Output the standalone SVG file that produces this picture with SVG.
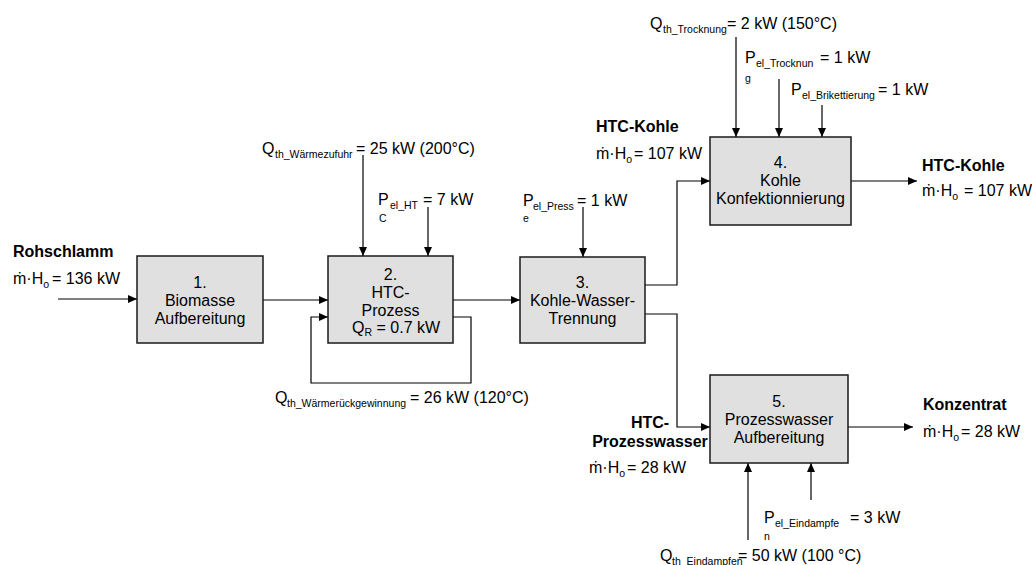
<svg xmlns="http://www.w3.org/2000/svg" width="1032" height="565" viewBox="0 0 1032 565">
<style>
text{font-family:"Liberation Sans",Arial,sans-serif;font-size:16px;fill:#000}
.b{font-weight:bold}
.s{font-size:10.5px}
.c{text-anchor:middle}
.box{fill:#e0e0e0;stroke:#1a1a1a;stroke-width:1.5}
.ln{fill:none;stroke:#000;stroke-width:1.2}
.ar{marker-end:url(#ah)}
</style>
<defs>
<marker id="ah" markerUnits="userSpaceOnUse" markerWidth="10" markerHeight="9" refX="9" refY="4" orient="auto">
<path d="M0,0 L9,4 L0,8 z" fill="#000"/>
</marker>
</defs>
<rect width="1032" height="565" fill="#fff"/>

<g id="connectors">
<path class="ln ar" d="M58,299 H137"/>
<path class="ln ar" d="M263,300 H328"/>
<path class="ln ar" d="M453,300 H520"/>
<path class="ln ar" d="M453,317 H471 V383 H311 V317 H328"/>
<path class="ln ar" d="M645,285 H677 V181 H710"/>
<path class="ln ar" d="M645,314 H677 V427 H710"/>
<path class="ln ar" d="M851,181 H917"/>
<path class="ln ar" d="M848,427 H913"/>
<path class="ln ar" d="M363,155 V256"/>
<path class="ln ar" d="M428,207 V256"/>
<path class="ln ar" d="M583,207 V257"/>
<path class="ln ar" d="M736,37 V137"/>
<path class="ln ar" d="M779,79 V137"/>
<path class="ln ar" d="M822,105 V137"/>
<path class="ln ar" d="M748,540 V463"/>
<path class="ln ar" d="M811,500 V463"/>
</g>

<g id="n1">
<rect class="box" x="137" y="256" width="126" height="87"/>
<text class="c" x="200" y="288">1.</text>
<text class="c" x="200" y="306">Biomasse</text>
<text class="c" x="200" y="324">Aufbereitung</text>
</g>
<g id="n2">
<rect class="box" x="328" y="256" width="125" height="87"/>
<text class="c" x="390.5" y="280">2.</text>
<text class="c" x="390.5" y="298">HTC-</text>
<text class="c" x="390.5" y="316">Prozess</text>
<text x="352" y="333">Q<tspan class="s" dy="3">R</tspan><tspan dy="-3"> = 0.7 kW</tspan></text>
</g>
<g id="n3">
<rect class="box" x="520" y="257" width="125" height="86"/>
<text class="c" x="582.5" y="288">3.</text>
<text class="c" x="582.5" y="306">Kohle-Wasser-</text>
<text class="c" x="582.5" y="324">Trennung</text>
</g>
<g id="n4">
<rect class="box" x="710" y="137" width="141" height="88"/>
<text class="c" x="780.5" y="168">4.</text>
<text class="c" x="780.5" y="186">Kohle</text>
<text class="c" x="780.5" y="204">Konfektionnierung</text>
</g>
<g id="n5">
<rect class="box" x="710" y="375" width="138" height="88"/>
<text class="c" x="779" y="407">5.</text>
<text class="c" x="779" y="425">Prozesswasser</text>
<text class="c" x="779" y="443">Aufbereitung</text>
</g>

<g id="labels">
<text class="b" x="13" y="257">Rohschlamm</text>
<text x="13" y="284">ṁ·H<tspan class="s" dy="4">o</tspan><tspan x="52" dy="-4">= 136 kW</tspan></text>

<text x="262" y="154">Q<tspan class="s" x="275" dy="4">th_Wärmezufuhr</tspan><tspan x="356" dy="-4">= 25 kW (200°C)</tspan></text>
<text x="378" y="205">P<tspan class="s" x="390" dy="4">el_HT</tspan><tspan x="423" dy="-4">= 7 kW</tspan></text>
<text class="s" x="379" y="222">C</text>

<text x="523" y="206">P<tspan class="s" x="533" dy="4">el_Press</tspan><tspan x="577" dy="-4">= 1 kW</tspan></text>
<text class="s" x="523" y="222">e</text>

<text x="650" y="29">Q<tspan class="s" x="663" dy="4">th_Trocknung</tspan><tspan x="727" dy="-4">= 2 kW (150°C)</tspan></text>
<text x="745" y="63">P<tspan class="s" x="756" dy="4">el_Trocknun</tspan><tspan x="820" dy="-4">= 1 kW</tspan></text>
<text class="s" x="745" y="82">g</text>
<text x="791" y="95">P<tspan class="s" x="802" dy="4">el_Brikettierung</tspan><tspan x="878" dy="-4">= 1 kW</tspan></text>

<text class="b" x="596" y="132">HTC-Kohle</text>
<text x="596" y="159">ṁ·H<tspan class="s" dy="4">o</tspan><tspan x="634" dy="-4">= 107 kW</tspan></text>

<text class="b" x="922" y="171">HTC-Kohle</text>
<text x="922" y="196">ṁ·H<tspan class="s" dy="4">o</tspan><tspan x="964" dy="-4">= 107 kW</tspan></text>

<text x="275" y="403">Q<tspan class="s" x="287" dy="4">th_Wärmerückgewinnung</tspan><tspan x="410" dy="-4">= 26 kW (120°C)</tspan></text>

<text class="b c" x="650" y="428">HTC-</text>
<text class="b c" x="650" y="447">Prozesswasser</text>
<text x="589" y="473">ṁ·H<tspan class="s" dy="4">o</tspan><tspan x="627" dy="-4">= 28 kW</tspan></text>

<text class="b" x="923" y="410">Konzentrat</text>
<text x="923" y="437">ṁ·H<tspan class="s" dy="4">o</tspan><tspan x="961" dy="-4">= 28 kW</tspan></text>

<text x="764" y="523">P<tspan class="s" x="775" dy="4">el_Eindampfe</tspan><tspan x="850" dy="-4">= 3 kW</tspan></text>
<text class="s" x="764" y="540">n</text>
<text x="660" y="561">Q<tspan class="s" x="672" dy="4">th_Eindampfen</tspan><tspan x="738" dy="-4">= 50 kW (100 °C)</tspan></text>
</g>
</svg>
